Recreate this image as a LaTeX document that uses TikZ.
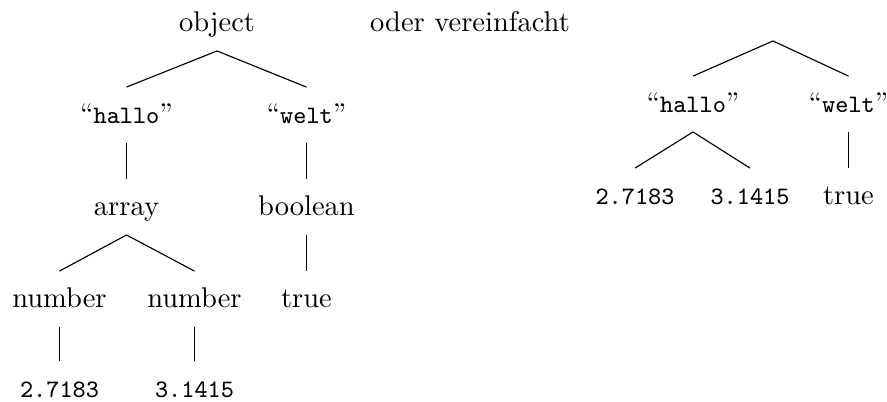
\documentclass[tikz,border=0pt]{standalone}
\usetikzlibrary{calc}

\newcommand{\smalltt}{\fontsize{8.8pt}{10pt}\selectfont\ttfamily}
\newcommand{\qstr}[1]{\textquotedblleft{\smalltt #1}\textquotedblright}

\begin{document}
\begin{tikzpicture}[%
  x=0.3509pt, y=-0.3509pt,
  word/.style={anchor=base, inner sep=0pt, outer sep=0pt,
    text height=12.6pt, text depth=7pt},
  num/.style={word, font=\smalltt},
  branch/.style={line width=0.4pt},
]

  \useasboundingbox (0,0) rectangle (887,401);

  % full tree
  \node[word] (obj) at (217,31) {object};
  \node[word] (hal) at (126.5,123) {\qstr{hallo}};
  \node[word] (wel) at (306.5,123) {\qstr{welt}};
  \node[word] (arr) at (126.5,215) {array};
  \node[word] (boo) at (306.5,215) {boolean};
  \node[word] (nuA) at (59.5,307) {number};
  \node[word] (nuB) at (194.5,307) {number};
  \node[word] (tru) at (306.5,307) {true};
  \node[num] (vaA) at (59.5,397) {2.7183};
  \node[num] (vaB) at (194.5,397) {3.1415};

  \draw[branch] (obj.south) -- (hal.north);
  \draw[branch] (obj.south) -- (wel.north);
  \draw[branch] (hal.south) -- (arr.north);
  \draw[branch] (wel.south) -- (boo.north);
  \draw[branch] (arr.south) -- (nuA.north);
  \draw[branch] (arr.south) -- (nuB.north);
  \draw[branch] (boo.south) -- (tru.north);
  \draw[branch] (nuA.south) -- (vaA.north);
  \draw[branch] (nuB.south) -- (vaB.north);

  \node[word] (oder) at (470,31) {oder vereinfacht};

  % short tree
  \node[word] (root) at (773,21) {};
  \node[word] (sHal) at (693,112) {\qstr{hallo}};
  \node[word] (sWel) at (848.5,112) {\qstr{welt}};
  \node[num] (sVaA) at (635,204) {2.7183};
  \node[num] (sVaB) at (750,204) {3.1415};
  \node[word] (sTru) at (848.5,204) {true};

  \draw[branch] (root.south) -- (sHal.north);
  \draw[branch] (root.south) -- (sWel.north);
  \draw[branch] (sHal.south) -- (sVaA.north);
  \draw[branch] (sHal.south) -- (sVaB.north);
  \draw[branch] (sWel.south) -- (sTru.north);

\end{tikzpicture}
\end{document}
